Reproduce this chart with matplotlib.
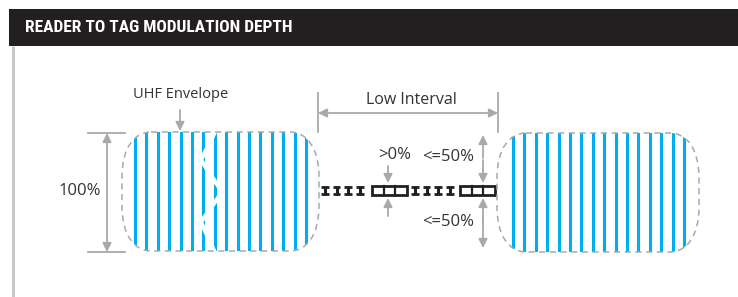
import matplotlib
matplotlib.use("Agg")
import matplotlib.pyplot as plt
from matplotlib.path import Path
from matplotlib.patches import PathPatch, Rectangle

# diagram content
title = "READER TO TAG MODULATION DEPTH"
envelope_label = "UHF Envelope"
interval_label = "Low Interval"
full_depth = "100%"
min_depth = ">0%"
max_depth = "<=50%"
lines_per_envelope = 16
ibeams_per_group = 4
cells_per_box = 3

BLUE = "#00aeef"
GREY = "#a7a9ac"
DARK = "#231f20"
TEXT = "#333333"
FONT = ["Open Sans", "DejaVu Sans"]

fig = plt.figure(figsize=(7.38, 2.97), dpi=100)
ax = fig.add_axes([0, 0, 1, 1])
ax.set_xlim(0, 738)
ax.set_ylim(297, 0)
ax.axis("off")

# header bar and left frame line
ax.add_patch(Rectangle((9, 9), 729, 37, color=DARK, lw=0))
ax.plot([12.5, 12.5], [46, 297], color="#c8c8c8", lw=2.2, solid_capstyle="butt")
ax.text(25, 28, title, color="white", fontsize=12.5, fontweight="bold",
        family=["Roboto Condensed", "Liberation Sans Narrow", "Roboto", "DejaVu Sans"],
        va="center", ha="left")


def envelope(x0, x1, top, bot, first, step, notch=False):
    rx, ry = 28, 45
    verts = [(x0 + rx, top), (x1 - rx, top),
             (x1 - 12, top), (x1 + 1, top + 15), (x1 + 1, top + ry),
             (x1 + 1, bot - ry),
             (x1 + 1, bot - 15), (x1 - 12, bot), (x1 - rx, bot),
             (x0 + rx, bot),
             (x0 + 12, bot), (x0 - 1, bot - 15), (x0 - 1, bot - ry),
             (x0 - 1, top + ry),
             (x0 - 1, top + 15), (x0 + 12, top), (x0 + rx, top),
             (x0 + rx, top)]
    codes = [Path.MOVETO, Path.LINETO,
             Path.CURVE4, Path.CURVE4, Path.CURVE4,
             Path.LINETO,
             Path.CURVE4, Path.CURVE4, Path.CURVE4,
             Path.LINETO,
             Path.CURVE4, Path.CURVE4, Path.CURVE4,
             Path.LINETO,
             Path.CURVE4, Path.CURVE4, Path.CURVE4,
             Path.CLOSEPOLY]
    clip = PathPatch(Path(verts, codes), fc="none", ec="none")
    ax.add_patch(clip)
    for i in range(lines_per_envelope):
        x = first + i * step
        ln, = ax.plot([x, x], [top - 2, bot + 2], color=BLUE, lw=2.2,
                      solid_capstyle="butt")
        ln.set_clip_path(clip)
    if notch:
        zx = [217, 201, 222, 201, 216]
        zy = [128, 160, 192, 222, 255]
        ax.plot(zx, zy, color="white", lw=3.0, zorder=3)
    ax.add_patch(PathPatch(Path(verts, codes), fc="none", ec=GREY, lw=1.1,
                           linestyle=(0, (4, 3)), zorder=4))


envelope(123, 318, 132, 251, 135, 11.4, notch=True)
envelope(498, 698, 133, 252, 513, 11.4)


def arrow(x0, y0, x1, y1, both=False):
    style = "<|-|>" if both else "-|>"
    ax.annotate("", xy=(x1, y1), xytext=(x0, y0),
                arrowprops=dict(arrowstyle=style, color=GREY, lw=1.3,
                                mutation_scale=13, shrinkA=0, shrinkB=0))


# 100% dimension
ax.plot([88, 125], [133, 133], color=GREY, lw=1.3)
ax.plot([88, 125], [252, 252], color=GREY, lw=1.3)
arrow(107, 133, 107, 252, both=True)
ax.text(101, 191, full_depth, fontsize=12, family=FONT, color=TEXT,
        ha="right", va="center")

# UHF envelope label
ax.text(181, 95, envelope_label, fontsize=10.5, family=FONT, color=TEXT,
        ha="center", va="center")
arrow(180, 110, 180, 131)

# low interval dimension
ax.plot([318, 318], [93, 132], color=GREY, lw=1.3)
ax.plot([498, 498], [93, 132], color=GREY, lw=1.3)
arrow(318, 113, 498, 113, both=True)
ax.text(411, 100, interval_label, fontsize=11.5, family=FONT, color=TEXT,
        ha="center", va="center")

# modulated carrier during the low interval
sy0, sy1 = 186, 195


def ibeams(start):
    for i in range(ibeams_per_group):
        cx = start + i * 11.6
        ax.plot([cx, cx], [sy0, sy1], color=DARK, lw=2.2, solid_capstyle="butt")
        ax.plot([cx - 3.8, cx + 3.8], [sy0 + 0.8, sy0 + 0.8], color=DARK, lw=2.0,
                solid_capstyle="butt")
        ax.plot([cx - 3.8, cx + 3.8], [sy1 - 0.8, sy1 - 0.8], color=DARK, lw=2.0,
                solid_capstyle="butt")


def box(x0, x1):
    ax.add_patch(Rectangle((x0, sy0), x1 - x0, sy1 - sy0, fc="none", ec=DARK, lw=2.0))
    w = (x1 - x0) / cells_per_box
    for k in range(1, cells_per_box):
        ax.plot([x0 + k * w, x0 + k * w], [sy0, sy1], color=DARK, lw=1.6)


ibeams(325)
box(372, 407)
ibeams(415)
box(460, 495)

# depth annotations
arrow(388, 166, 388, 183)
arrow(388, 216, 388, 198)
ax.text(395, 155, min_depth, fontsize=12, family=FONT, color=TEXT,
        ha="center", va="center")
arrow(483, 158, 483, 135)
arrow(483, 160, 483, 183)
arrow(483, 222, 483, 198)
arrow(483, 220, 483, 248)
ax.text(448, 157, max_depth, fontsize=12, family=FONT, color=TEXT,
        ha="center", va="center")
ax.text(448, 222, max_depth, fontsize=12, family=FONT, color=TEXT,
        ha="center", va="center")

fig.savefig("out.png", dpi=100)
